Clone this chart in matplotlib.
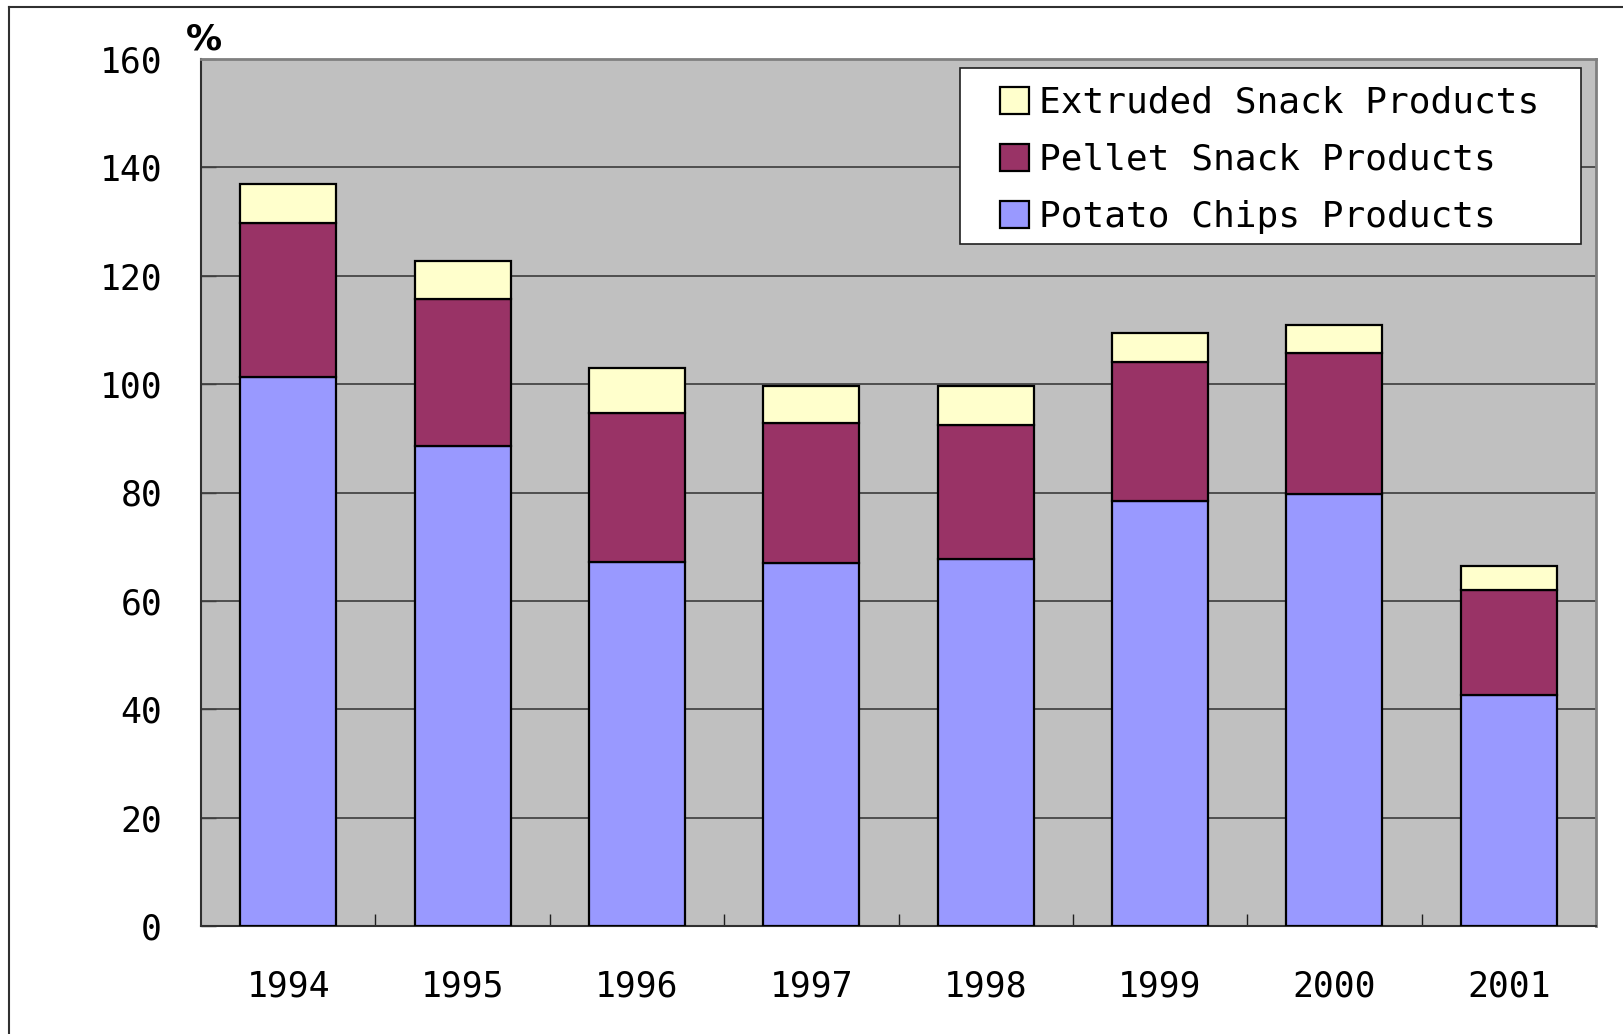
import matplotlib.pyplot as plt
from matplotlib.patches import Rectangle
from matplotlib.lines import Line2D
import numpy as np

years = ['1994', '1995', '1996', '1997', '1998', '1999', '2000', '2001']
potato = [101.3, 88.5, 67.2, 66.9, 67.7, 78.5, 79.7, 42.7]
pellet = [28.5, 27.3, 27.4, 26.0, 24.8, 25.6, 26.1, 19.3]
extruded = [7.2, 6.9, 8.4, 6.8, 7.2, 5.3, 5.2, 4.5]

labels = ['Extruded Snack Products', 'Pellet Snack Products', 'Potato Chips Products']
colors = ['#FFFFCC', '#993366', '#9999FF']

plt.rcParams['font.family'] = 'DejaVu Sans Mono'

fig = plt.figure(figsize=(16.23, 10.34), dpi=100)
ax = fig.add_axes([201 / 1623, 1 - 926 / 1034, 1395 / 1623, 867 / 1034])
ax.set_facecolor('#C0C0C0')

x = np.arange(len(years))
w = 0.55
b1 = ax.bar(x, potato, w, color=colors[2], edgecolor='black', linewidth=1.6, zorder=3)
b2 = ax.bar(x, pellet, w, bottom=potato, color=colors[1], edgecolor='black', linewidth=1.6, zorder=3)
bottom3 = np.array(potato) + np.array(pellet)
b3 = ax.bar(x, extruded, w, bottom=bottom3, color=colors[0], edgecolor='black', linewidth=1.6, zorder=3)

ax.set_xlim(-0.5, len(years) - 0.5)
ax.set_ylim(0, 160)
ax.set_yticks(range(0, 161, 20))
ax.yaxis.grid(True, color='#303030', linewidth=1.1, zorder=1)
ax.set_axisbelow(True)

ax.set_xticks(x)
ax.set_xticklabels(years)
ax.set_xticks(np.arange(0.5, len(years) - 1, 1), minor=True)
ax.tick_params(axis='x', which='major', length=0, pad=31, labelsize=25)
ax.tick_params(axis='x', which='minor', direction='in', length=9, width=1, color='#202020')
ax.tick_params(axis='y', direction='in', length=11, width=1, color='#404040', pad=28, labelsize=25)

for s in ['left', 'bottom']:
    ax.spines[s].set_color('#303030')
    ax.spines[s].set_linewidth(1.5)
for s in ['top', 'right']:
    ax.spines[s].set_color('#808080')
    ax.spines[s].set_linewidth(2)

# legend frame drawn separately
frame = Rectangle((960 / 1623, 1 - 244 / 1034), 621 / 1623, 176 / 1034, transform=fig.transFigure,
                  facecolor='white', edgecolor='#202020', linewidth=1.2, zorder=4)
fig.add_artist(frame)
leg = fig.legend([b3, b2, b1], labels, loc='center',
                 bbox_to_anchor=(1270 / 1623, 1 - 160 / 1034), frameon=False,
                 fontsize=26, handlelength=0.78, handleheight=0.78, handletextpad=0.3,
                 labelspacing=0.64, borderpad=0)
leg.set_zorder(5)

fig.text(204 / 1623, 1 - 40 / 1034, '%', fontsize=26, fontweight='bold', family='DejaVu Sans',
         ha='center', va='center')

# figure border (top and left)
fig.add_artist(Line2D([9 / 1623, 9 / 1623], [0, 1 - 7 / 1034], transform=fig.transFigure,
                      color='#303030', linewidth=1.5))
fig.add_artist(Line2D([9 / 1623, 1], [1 - 7 / 1034, 1 - 7 / 1034], transform=fig.transFigure,
                      color='#303030', linewidth=1.5))

fig.savefig('out.png', dpi=100)
